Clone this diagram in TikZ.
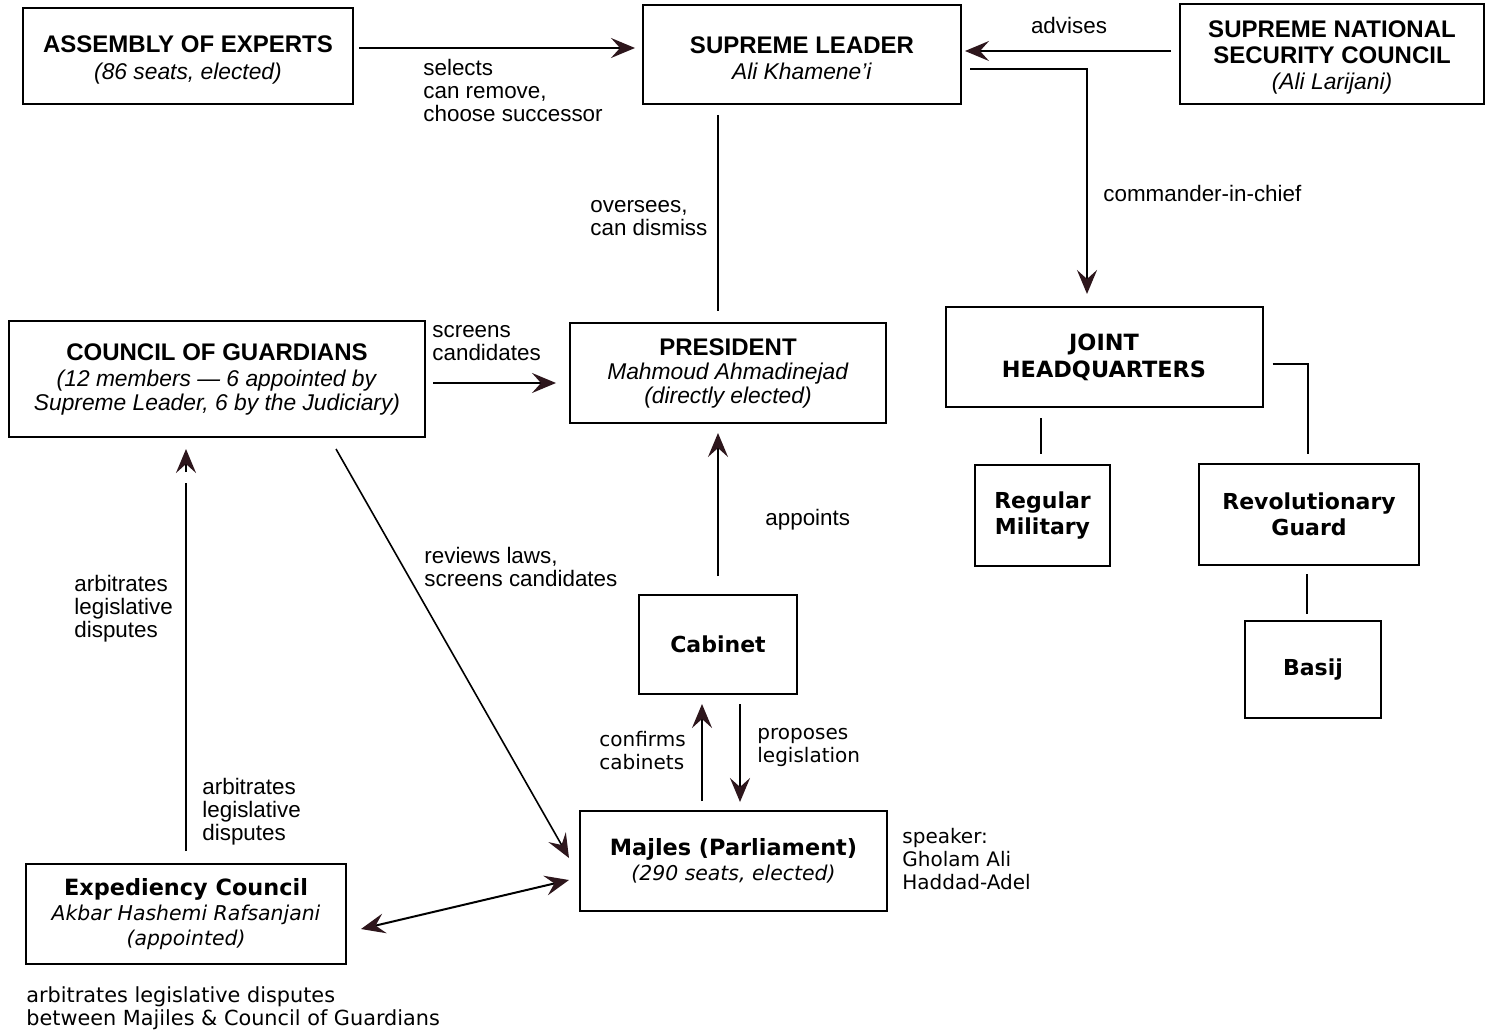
\documentclass[tikz,border=0pt]{standalone}
\usepackage{fontspec}
\setmainfont{Liberation Sans}
\newfontfamily\verd{DejaVu Sans}
\usetikzlibrary{arrows.meta}
\definecolor{tipcol}{RGB}{45,22,28}

\tikzset{
  box/.style={draw=black, line width=1pt, align=center, inner sep=2pt},
  abox/.style={box, font=\fontsize{11.4}{12}\selectfont},
  vbox/.style={box, font=\verd\fontsize{10.2}{12.25}\selectfont},
  vbold/.style={box, font=\verd\bfseries\fontsize{11}{13}\selectfont},
  lbl/.style={align=left, inner sep=0pt, font=\fontsize{11.2}{11.5}\selectfont},
  vlbl/.style={lbl, font=\verd\fontsize{10}{11.5}\selectfont},
  arr/.style={line width=1pt, -{Stealth[length=12pt, width=10pt, inset=4.5pt, color=tipcol]}},
  dblarr/.style={line width=1pt, {Stealth[length=12pt, width=10pt, inset=4.5pt, color=tipcol]}-{Stealth[length=12pt, width=10pt, inset=4.5pt, color=tipcol]}},
  link/.style={line width=0.9pt}
}

\begin{document}
\begin{tikzpicture}[x=0.5pt, y=-0.5pt]
  \useasboundingbox (0, 0) rectangle (1486, 1032);

  \node[abox, minimum width=165pt, minimum height=48pt] (AE) at (188, 56)
    {\rule{0pt}{12pt}\textbf{\fontsize{12}{12}\selectfont ASSEMBLY OF EXPERTS}\\[1.5pt]\textit{(86 seats, elected)}};
  \node[abox, minimum width=159pt, minimum height=49.5pt] (SL) at (802, 54.5)
    {\rule{0pt}{12pt}\textbf{\fontsize{12}{12}\selectfont SUPREME LEADER}\\[1pt]\textit{Ali Khamene'i}};
  \node[abox, minimum width=152pt, minimum height=50pt] (SC) at (1332, 54)
    {\rule{0pt}{12pt}\textbf{\fontsize{12}{12}\selectfont SUPREME NATIONAL}\\[1pt]\textbf{\fontsize{12}{12}\selectfont SECURITY COUNCIL}\\[1pt]\textit{(Ali Larijani)}};

  \node[abox, minimum width=208pt, minimum height=58pt] (CG) at (217, 379)
    {\textbf{\fontsize{12}{12}\selectfont COUNCIL OF GUARDIANS}\\[1pt]\textit{(12 members — 6 appointed by}\\\textit{Supreme Leader, 6 by the Judiciary)}};
  \node[abox, minimum width=158pt, minimum height=50pt] (PR) at (728, 373)
    {\textbf{\fontsize{12}{12}\selectfont PRESIDENT}\\\textit{Mahmoud Ahmadinejad}\\\textit{(directly elected)}};

  \node[vbold, font=\verd\bfseries\fontsize{11.2}{13.5}\selectfont, minimum width=158.5pt, minimum height=50pt] (JH) at (1104, 357)
    {JOINT\\HEADQUARTERS};
  \node[vbold, minimum width=67.5pt, minimum height=50.5pt] (RM) at (1042.5, 515.5) {Regular\\Military};
  \node[vbold, minimum width=110pt, minimum height=50.5pt] (RG) at (1309, 514.5) {Revolutionary\\Guard};
  \node[vbold, minimum width=68pt, minimum height=48.5pt] (BA) at (1313, 669.5) {Basij};

  \node[vbold, minimum width=79pt, minimum height=49.5pt] (CA) at (718, 644.5) {Cabinet};
  \node[vbox, minimum width=153.5pt, minimum height=50pt] (MA) at (733.5, 861)
    {\textbf{\fontsize{11.2}{13}\selectfont Majles (Parliament)}\\[0.5pt]\textit{(290 seats, elected)}};
  \node[vbox, minimum width=160pt, minimum height=50pt] (EC) at (186, 914)
    {\textbf{\fontsize{11.2}{13}\selectfont Expediency Council}\\[0.5pt]\textit{Akbar Hashemi Rafsanjani}\\\textit{(appointed)}};

  \node[lbl, anchor=west] (AEl) at (423, 90) {selects\\can remove,\\choose successor};
  \node[lbl] (SCl) at (1069, 25) {advises};
  \node[lbl, anchor=west] (JHl) at (1103, 193) {commander-in-chief};
  \node[lbl, anchor=west] (PRl) at (590, 218) {oversees,\\can dismiss};
  \node[lbl, anchor=west] (CGl) at (432, 343) {screens\\candidates};
  \node[lbl, anchor=west] (MAl) at (424, 567) {reviews laws,\\screens candidates};
  \node[lbl, anchor=west] (CAl) at (765, 520) {appoints};
  \node[vlbl, anchor=west] (CAc) at (599, 751) {confirms\\cabinets};
  \node[vlbl, anchor=west] (CAp) at (757, 747) {proposes\\legislation};
  \node[lbl, anchor=west] (ECa) at (74, 609) {arbitrates\\legislative\\disputes};
  \node[lbl, anchor=west] (ECb) at (202, 812) {arbitrates\\legislative\\disputes};
  \node[vlbl, anchor=west] (MAs) at (902, 859) {speaker:\\Gholam Ali\\Haddad-Adel};
  \node[vlbl, anchor=west, font=\verd\fontsize{10.4}{11.5}\selectfont] (ECn) at (26, 1008)
    {arbitrates legislative disputes\\between Majiles \& Council of Guardians};

  \draw[arr, shorten <=2.5pt, shorten >=3.5pt] ([yshift=4pt]AE.east) -- ([yshift=4pt]AE.east -| SL.west);
  \draw[arr, shorten <=4pt, shorten >=1.5pt] ([yshift=1.5pt]SC.west) -- ([yshift=1.5pt]SC.west -| SL.east);
  \draw[arr, shorten >=6pt] ([xshift=4pt, yshift=-7.25pt]SL.east) -| ([xshift=-8.5pt]JH.north);
  \draw[link] ([xshift=-42pt, yshift=-5pt]SL.south) -- ([xshift=-5pt, yshift=5.5pt]PR.north);
  \draw[arr, shorten <=3.5pt, shorten >=6.5pt] ([yshift=-2pt]CG.east) -- ([yshift=-2pt]CG.east -| PR.west);

  \draw[link] ([xshift=-31.5pt, yshift=-5pt]JH.south) -- ([xshift=-0.75pt, yshift=5pt]RM.north);
  \draw[link] ([xshift=4.5pt, yshift=-3.5pt]JH.east) -| ([xshift=-0.5pt, yshift=4.5pt]RG.north);
  \draw[link] ([xshift=-1pt, yshift=-4pt]RG.south) -- ([xshift=-3pt, yshift=3pt]BA.north);

  \draw[arr] ([yshift=9pt]CA.north) -- ([xshift=-5pt, yshift=-4.5pt]PR.south);
  \draw[arr] ([xshift=-15.75pt, yshift=4.5pt]MA.north) -- ([xshift=-8pt, yshift=-4.5pt]CA.south);
  \draw[arr] ([xshift=11pt, yshift=-4.5pt]CA.south) -- ([xshift=3.25pt, yshift=4pt]MA.north);

  \draw[arr, line width=0.8pt] ([xshift=59.5pt, yshift=-5.5pt]CG.south) -- ([xshift=-5pt, yshift=1.5pt]MA.west);
  \draw[link, line width=1pt] ([yshift=6pt]EC.north) -- ([xshift=-15.5pt, yshift=-22.5pt]CG.south);
  \draw[arr] ([xshift=-15.5pt, yshift=-17pt]CG.south) -- ([xshift=-15.5pt, yshift=-5.5pt]CG.south);
  \draw[dblarr] ([xshift=7pt, yshift=-7.5pt]EC.east) -- ([xshift=-5pt, yshift=-9.5pt]MA.west);
\end{tikzpicture}
\end{document}
